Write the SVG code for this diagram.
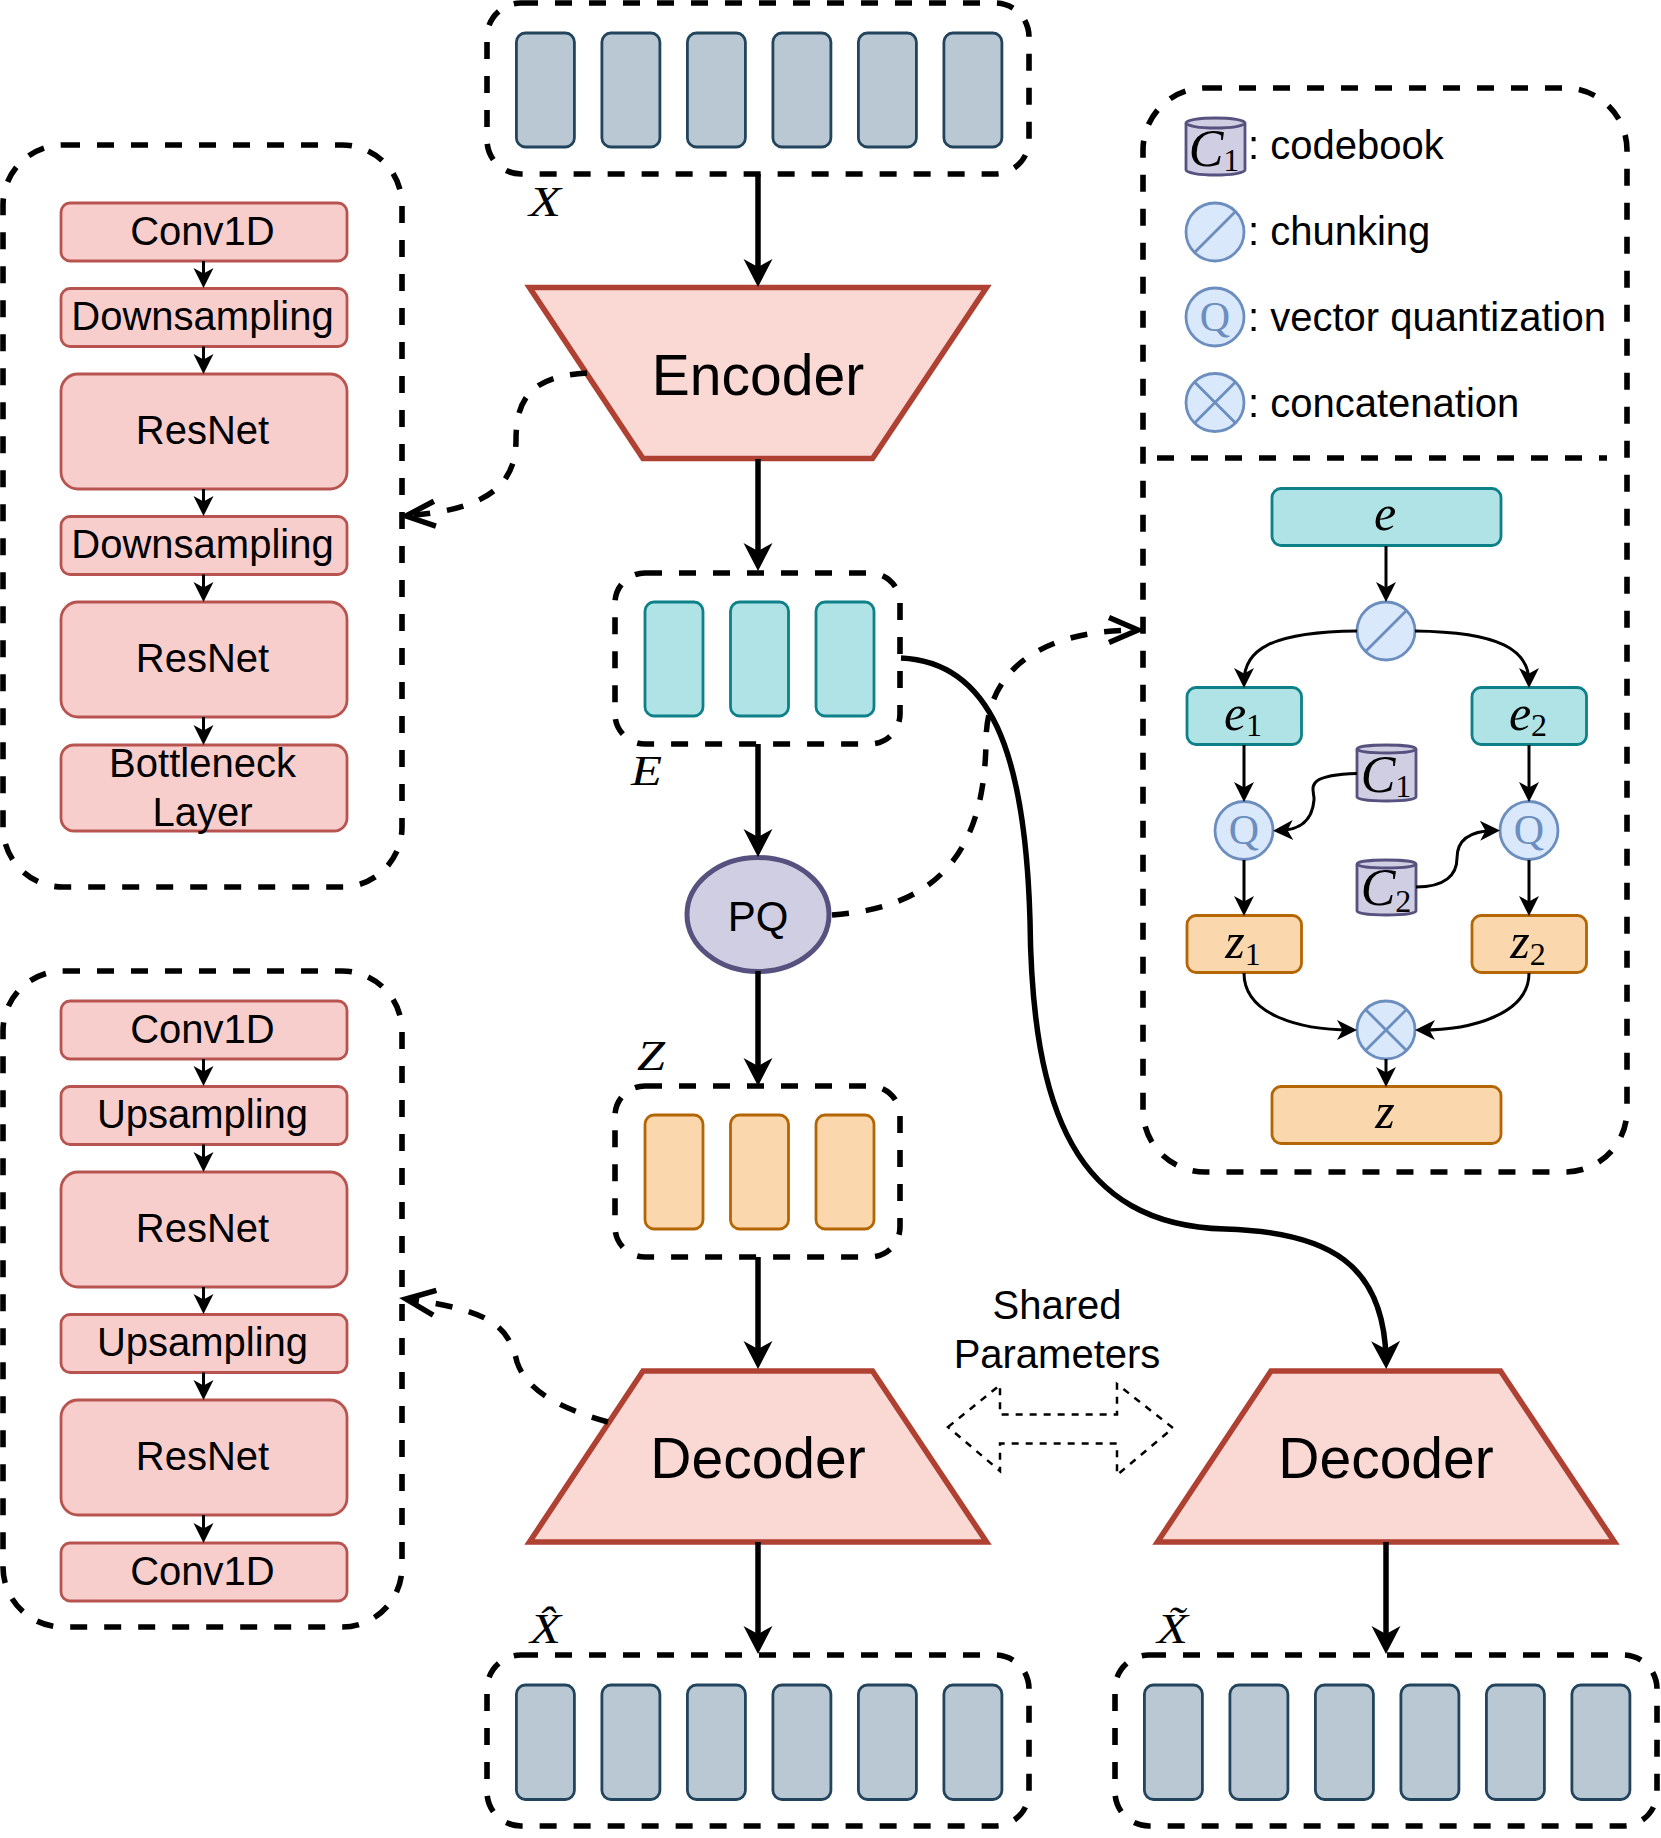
<svg xmlns="http://www.w3.org/2000/svg" width="1661" height="1838" viewBox="0 0 1661 1838">
<style>
text{font-family:"Liberation Sans",Arial,sans-serif;fill:#000}
.t{font-size:40px;text-anchor:middle}
.l{font-size:40px}
.big{font-size:57px;text-anchor:middle}
.m{font-family:"Liberation Serif","Times New Roman",serif;font-style:italic;font-size:50px;text-anchor:middle}
.c{font-size:52px}
.lab{font-family:"Liberation Serif","Times New Roman",serif;font-style:italic;font-size:42px}
.s{font-style:normal;font-size:32px}
.q{font-family:"Liberation Serif","Times New Roman",serif;font-size:42px;text-anchor:middle;fill:#6c8ebf}
.group{fill:none;stroke:#000;stroke-width:5.6;stroke-dasharray:17 17}
.gray{fill:#bac8d3;stroke:#23445d;stroke-width:2.8}
.teal{fill:#b0e3e6;stroke:#0e8088;stroke-width:2.8}
.orange{fill:#fad7ac;stroke:#b46504;stroke-width:2.8}
.red{fill:#f8cecc;stroke:#b85450;stroke-width:2.8}
.trap{fill:#fad9d5;stroke:#ae4132;stroke-width:5.6}
.cyl{fill:#d0cee2;stroke:#56517e;stroke-width:2.8}
.op{fill:#dae8fc;stroke:#6c8ebf;stroke-width:2.8}
.opl{fill:none;stroke:#6c8ebf;stroke-width:2.8}
.w2{fill:none;stroke:#000;stroke-width:5.5;marker-end:url(#big)}
.d{fill:none;stroke:#000;stroke-width:5.5;stroke-dasharray:17 17;marker-end:url(#open)}
.n{fill:none;stroke:#000;stroke-width:3;marker-end:url(#small)}
.sh{fill:#fff;stroke:#000;stroke-width:2.5;stroke-dasharray:7 7}
</style>
<defs>
<marker id="big" markerUnits="userSpaceOnUse" markerWidth="30" markerHeight="30" refX="18" refY="14.5" orient="auto" overflow="visible"><path d="M28 14.5 L0 0 L8 14.5 L0 29 Z" fill="#000"/></marker>
<marker id="small" markerUnits="userSpaceOnUse" markerWidth="22" markerHeight="22" refX="14" refY="10" orient="auto" overflow="visible"><path d="M20 10 L0 0 L5.500 10 L0 20 Z" fill="#000"/></marker>
<marker id="open" markerUnits="userSpaceOnUse" markerWidth="34" markerHeight="34" refX="30" refY="15" orient="auto" overflow="visible"><path d="M1 2.500 L30 15 L1 27.500" fill="none" stroke="#000" stroke-width="5.500"/></marker>
</defs>

<g id="input-x">
<rect class="group" x="487" y="3" width="542" height="171" rx="34"/>
<rect class="gray" x="516.4" y="33" width="58" height="114" rx="9"/><rect class="gray" x="601.9" y="33" width="58" height="114" rx="9"/><rect class="gray" x="687.4" y="33" width="58" height="114" rx="9"/><rect class="gray" x="772.9" y="33" width="58" height="114" rx="9"/><rect class="gray" x="858.4" y="33" width="58" height="114" rx="9"/><rect class="gray" x="943.9" y="33" width="58" height="114" rx="9"/>
<text class="lab" x="529" y="216" textLength="32" lengthAdjust="spacingAndGlyphs">X</text>
</g>

<g id="encoder"><polygon class="trap" points="529.5,287.5 986.5,287.5 872.500,458.5 643,458.5"/><text class="big" x="758" y="395">Encoder</text></g>

<g id="embeddings-e">
<rect class="group" x="615" y="573" width="285" height="171" rx="30"/>
<rect class="teal" x="645" y="602" width="58" height="114" rx="9"/><rect class="teal" x="730.5" y="602" width="58" height="114" rx="9"/><rect class="teal" x="816" y="602" width="58" height="114" rx="9"/>
<text class="lab" x="631" y="785" textLength="31" lengthAdjust="spacingAndGlyphs">E</text>
</g>

<g id="pq"><ellipse cx="758" cy="914.500" rx="71" ry="57" fill="#d0cee2" stroke="#56517e" stroke-width="5"/><text class="t" x="758" y="931" style="font-size:42px">PQ</text></g>

<g id="codes-z">
<rect class="group" x="615" y="1086" width="285" height="171" rx="30"/>
<rect class="orange" x="645" y="1115" width="58" height="114" rx="9"/><rect class="orange" x="730.5" y="1115" width="58" height="114" rx="9"/><rect class="orange" x="816" y="1115" width="58" height="114" rx="9"/>
<text class="lab" x="637" y="1070" textLength="28" lengthAdjust="spacingAndGlyphs">Z</text>
</g>

<g id="decoder-1"><polygon class="trap" points="529.500,1542 643,1371 872.500,1371 986.500,1542"/><text class="big" x="758" y="1478">Decoder</text></g>
<g id="decoder-2"><polygon class="trap" points="1157.500,1542 1271,1371 1500.500,1371 1614.500,1542"/><text class="big" x="1386" y="1478">Decoder</text></g>

<g id="output-xhat">
<rect class="group" x="487" y="1655" width="542" height="171" rx="34"/>
<rect class="gray" x="516.4" y="1685" width="58" height="114.5" rx="9"/><rect class="gray" x="601.9" y="1685" width="58" height="114.5" rx="9"/><rect class="gray" x="687.4" y="1685" width="58" height="114.5" rx="9"/><rect class="gray" x="772.9" y="1685" width="58" height="114.5" rx="9"/><rect class="gray" x="858.4" y="1685" width="58" height="114.5" rx="9"/><rect class="gray" x="943.9" y="1685" width="58" height="114.5" rx="9"/>
<text class="lab" x="530" y="1643" textLength="31" lengthAdjust="spacingAndGlyphs">X̂</text>
</g>
<g id="output-xtilde">
<rect class="group" x="1115" y="1655" width="542" height="171" rx="34"/>
<rect class="gray" x="1144.4" y="1685" width="58" height="114.5" rx="9"/><rect class="gray" x="1229.9" y="1685" width="58" height="114.5" rx="9"/><rect class="gray" x="1315.4" y="1685" width="58" height="114.5" rx="9"/><rect class="gray" x="1400.9" y="1685" width="58" height="114.5" rx="9"/><rect class="gray" x="1486.4" y="1685" width="58" height="114.5" rx="9"/><rect class="gray" x="1571.9" y="1685" width="58" height="114.5" rx="9"/>
<text class="lab" x="1157" y="1643" textLength="31" lengthAdjust="spacingAndGlyphs">X̃</text>
</g>

<g id="shared-parameters">
<polygon class="sh" points="948,1427 1000,1385 1000,1414.5 1117,1414.5 1117,1384 1173,1428 1117,1475 1117,1443.5 1000,1443.5 1000,1471"/>
<text class="t" x="1057" y="1319">Shared</text><text class="t" x="1057" y="1368">Parameters</text>
</g>

<g id="encoder-detail">
<rect class="group" x="3" y="145" width="399" height="742" rx="60"/>
<g id="enc-conv"><rect class="red" x="61" y="203" width="286" height="58" rx="9"/><text class="t" x="202.500" y="245">Conv1D</text></g>
<g id="enc-down1"><rect class="red" x="61" y="288.5" width="286" height="58" rx="9"/><text class="t" x="202.500" y="330">Downsampling</text></g>
<g id="enc-res1"><rect class="red" x="61" y="374" width="286" height="115" rx="17"/><text class="t" x="202.500" y="444">ResNet</text></g>
<g id="enc-down2"><rect class="red" x="61" y="516.5" width="286" height="58" rx="9"/><text class="t" x="202.500" y="558">Downsampling</text></g>
<g id="enc-res2"><rect class="red" x="61" y="602" width="286" height="115" rx="17"/><text class="t" x="202.500" y="672">ResNet</text></g>
<g id="enc-bottleneck"><rect class="red" x="61" y="745" width="286" height="86" rx="13"/><text class="t" x="202.500" y="777">Bottleneck</text><text class="t" x="202.500" y="825.5">Layer</text></g>
</g>

<g id="decoder-detail">
<rect class="group" x="3" y="971" width="399" height="656" rx="60"/>
<g id="dec-conv1"><rect class="red" x="61" y="1001" width="286" height="58" rx="9"/><text class="t" x="202.500" y="1043">Conv1D</text></g>
<g id="dec-up1"><rect class="red" x="61" y="1086.5" width="286" height="58" rx="9"/><text class="t" x="202.500" y="1128">Upsampling</text></g>
<g id="dec-res1"><rect class="red" x="61" y="1172" width="286" height="115" rx="17"/><text class="t" x="202.500" y="1242">ResNet</text></g>
<g id="dec-up2"><rect class="red" x="61" y="1314.5" width="286" height="58" rx="9"/><text class="t" x="202.500" y="1356">Upsampling</text></g>
<g id="dec-res2"><rect class="red" x="61" y="1400" width="286" height="115" rx="17"/><text class="t" x="202.500" y="1470">ResNet</text></g>
<g id="dec-conv2"><rect class="red" x="61" y="1543" width="286" height="58" rx="9"/><text class="t" x="202.500" y="1585">Conv1D</text></g>
</g>

<g id="pq-detail">
<rect class="group" x="1143" y="88" width="484" height="1084" rx="62"/>
<path class="group" d="M1157 458 H1607"/>
<g id="legend-codebook"><path class="cyl" d="M1186 123 a29.500 5 0 0 1 59 0 V170 a29.500 5 0 0 1 -59 0 Z"/><path class="cyl" fill="none" d="M1186 123 a29.500 5 0 0 0 59 0"/><text class="m c" x="1214" y="166">C<tspan class="s" dy="5">1</tspan></text><text class="l" x="1248" y="159">: codebook</text></g>
<g id="legend-chunking"><circle class="op" cx="1215" cy="232" r="29"/><path class="opl" d="M1194.500 252.500 L1235.500 211.500"/><text class="l" x="1248" y="245">: chunking</text></g>
<g id="legend-vq"><circle class="op" cx="1215" cy="317" r="29"/><text class="q" x="1215" y="331">Q</text><text class="l" x="1248" y="331">: vector quantization</text></g>
<g id="legend-concat"><circle class="op" cx="1215" cy="402.500" r="29"/><path class="opl" d="M1194.500 423 L1235.500 382 M1194.500 382 L1235.500 423"/><text class="l" x="1248" y="417">: concatenation</text></g>

<g id="node-e"><rect class="teal" x="1272" y="488.500" width="229" height="57" rx="9"/><text class="m" x="1385" y="530">e</text></g>
<g id="node-chunk"><circle class="op" cx="1386" cy="631" r="29"/><path class="opl" d="M1365.500 651.500 L1406.500 610.500"/></g>
<g id="node-e1"><rect class="teal" x="1187" y="687.500" width="114.500" height="57" rx="9"/><text class="m" x="1243" y="730">e<tspan class="s" dy="6">1</tspan></text></g>
<g id="node-e2"><rect class="teal" x="1472" y="687.500" width="114.500" height="57" rx="9"/><text class="m" x="1528" y="730">e<tspan class="s" dy="6">2</tspan></text></g>
<g id="node-c1"><path class="cyl" d="M1357 749 a29.500 4 0 0 1 59 0 V797 a29.500 4 0 0 1 -59 0 Z"/><path class="cyl" fill="none" d="M1357 749 a29.500 4 0 0 0 59 0"/><text class="m c" x="1386" y="792">C<tspan class="s" dy="5">1</tspan></text></g>
<g id="node-c2"><path class="cyl" d="M1357 864 a29.500 4 0 0 1 59 0 V911 a29.500 4 0 0 1 -59 0 Z"/><path class="cyl" fill="none" d="M1357 864 a29.500 4 0 0 0 59 0"/><text class="m c" x="1386" y="905">C<tspan class="s" dy="7">2</tspan></text></g>
<g id="node-q1"><circle class="op" cx="1244" cy="830.500" r="29"/><text class="q" x="1244" y="844">Q</text></g>
<g id="node-q2"><circle class="op" cx="1529" cy="830.500" r="29"/><text class="q" x="1529" y="844">Q</text></g>
<g id="node-z1"><rect class="orange" x="1187" y="915.500" width="114.500" height="57" rx="9"/><text class="m" x="1243" y="958">z<tspan class="s" dy="7">1</tspan></text></g>
<g id="node-z2"><rect class="orange" x="1472" y="915.500" width="114.500" height="57" rx="9"/><text class="m" x="1528" y="958">z<tspan class="s" dy="7">2</tspan></text></g>
<g id="node-concat"><circle class="op" cx="1386" cy="1030" r="29"/><path class="opl" d="M1365.500 1050.500 L1406.500 1009.500 M1365.500 1009.500 L1406.500 1050.500"/></g>
<g id="node-z"><rect class="orange" x="1272" y="1086.500" width="229" height="57" rx="9"/><text class="m" x="1385" y="1128">z</text></g>
</g>

<g id="connectors">
<path class="w2" d="M758 174 V277"/>
<path class="w2" d="M758 459 V561"/>
<path class="w2" d="M758 744 V847"/>
<path class="w2" d="M758 971 V1076"/>
<path class="w2" d="M758 1257 V1359"/>
<path class="w2" d="M758 1542 V1644"/>
<path class="w2" d="M1386 1542 V1644"/>
<path class="w2" d="M901 658 C990 662 1025 750 1030 920 C1032 1110 1075 1225 1225 1229 C1330 1232 1384 1265 1386 1359"/>
<path class="d" d="M832 915 C930 908 985 860 986 740 C987 670 1040 630 1138 630"/>
<path class="d" d="M587 373 C530 376 516 400 516 440 C516 490 480 510 406 516"/>
<path class="d" d="M608 1422 C570 1411 528 1395 517 1362 C508 1325 490 1310 406 1299"/>
<path class="n" d="M203.500 261 V282"/><path class="n" d="M203.500 346.500 V368"/><path class="n" d="M203.500 489 V510"/><path class="n" d="M203.500 574.500 V596"/><path class="n" d="M203.500 717 V739"/>
<path class="n" d="M203.500 1059 V1080"/><path class="n" d="M203.500 1144.500 V1166"/><path class="n" d="M203.500 1287 V1308"/><path class="n" d="M203.500 1372.500 V1394"/><path class="n" d="M203.500 1515 V1537"/>
<path class="n" d="M1386 546 V596"/>
<path class="n" d="M1357 631 C1270 632 1244 650 1244 682"/>
<path class="n" d="M1415 631 C1500 632 1529 650 1529 682"/>
<path class="n" d="M1244 745 V796"/><path class="n" d="M1529 745 V796"/>
<path class="n" d="M1357 773.500 C1300 775 1315 790 1314 800 C1312 825 1295 830 1279 830.500"/>
<path class="n" d="M1416 887 C1445 887 1457 875 1457 858 C1457 840 1470 831 1494 830.500"/>
<path class="n" d="M1244 860 V910"/><path class="n" d="M1529 860 V910"/>
<path class="n" d="M1244 973 C1244 1015 1300 1030 1351 1030"/>
<path class="n" d="M1529 973 C1529 1015 1470 1030 1421 1030"/>
<path class="n" d="M1386 1059 V1081"/>
</g>
</svg>
